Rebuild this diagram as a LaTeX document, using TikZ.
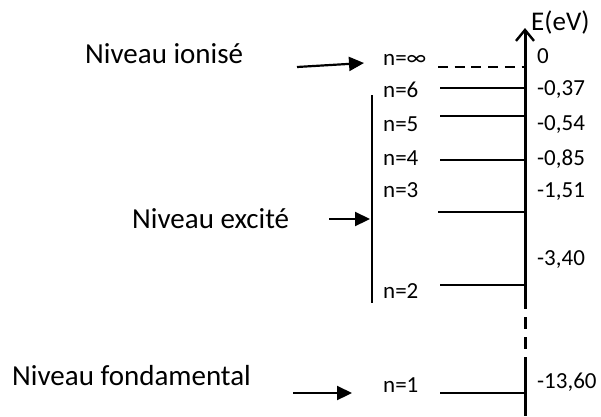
\documentclass[tikz,border=0pt]{standalone}
\usepackage{fontspec}
\setmainfont{Carlito}
\usetikzlibrary{arrows.meta}
\begin{document}
\begin{tikzpicture}[x=1pt,y=-1pt,
  big/.style={anchor=base west,inner sep=0pt,font=\fontsize{29}{32}\selectfont},
  small/.style={anchor=base west,inner sep=0pt,font=\fontsize{23}{26}\selectfont},
  level/.style={line width=2.9pt},
  pointer/.style={line width=2.2pt,-{Triangle[length=15pt,width=14pt]}},
  axis/.style={line width=3pt}]
\useasboundingbox (0,0) rectangle (601,416);
% axis
\coordinate (atop) at (525,28);
\coordinate (abrk1) at (525,297);
\coordinate (abrk2) at (525,363);
\coordinate (abot) at (525,416);
\draw[axis,-{Straight Barb[length=11pt,width=18pt,line width=2.4pt]}] (abrk1) -- (atop);
\draw[axis,dash pattern=on 12pt off 8pt] (abrk1) -- (abrk2);
\draw[axis] (abrk2) -- (abot);
\node[anchor=base west,inner sep=0pt,font=\fontsize{27}{30}\selectfont] (unit) at (531,30) {E(eV)};
% levels
\coordinate (linf) at (438,67); \coordinate (rinf) at (525,67);
\coordinate (l6) at (440,88);   \coordinate (r6) at (525,88);
\coordinate (l5) at (440,116);  \coordinate (r5) at (525,116);
\coordinate (l4) at (440,160);  \coordinate (r4) at (525,160);
\coordinate (l3) at (438,212);  \coordinate (r3) at (525,212);
\coordinate (l2) at (440,285);  \coordinate (r2) at (525,285);
\coordinate (l1) at (440,393);  \coordinate (r1) at (525,393);
\draw[level,dash pattern=on 10pt off 6.7pt] (linf) -- (rinf);
\draw[level] (l6) -- (r6);
\draw[level] (l5) -- (r5);
\draw[level] (l4) -- (r4);
\draw[level] (l3) -- (r3);
\draw[level] (l2) -- (r2);
\draw[level] (l1) -- (r1);
% n labels
\node[small] (ninf) at (383,65) {n=∞};
\node[small] (n6) at (383,97) {n=6};
\node[small] (n5) at (383,131) {n=5};
\node[small] (n4) at (383,165) {n=4};
\node[small] (n3) at (383,197) {n=3};
\node[small] (n2) at (383,298) {n=2};
\node[small] (n1) at (383,392) {n=1};
% energies
\node[small] (e0) at (537,63) {0};
\node[small] (e6) at (537,95) {-0,37};
\node[small] (e5) at (537,130) {-0,54};
\node[small] (e4) at (537,165) {-0,85};
\node[small] (e3) at (537,197) {-1,51};
\node[small] (e2) at (537,265) {-3,40};
\node[small] (e1) at (537,388) {-13,60};
% bracket
\coordinate (bt) at (372,95); \coordinate (bb) at (372,303);
\draw[line width=2.2pt] (bt) -- (bb);
% left labels
\node[big] (ion) at (85,63) {Niveau ionisé};
\node[big] (exc) at (132,228) {Niveau excité};
\node[big] (fon) at (12,385) {Niveau fondamental};
\coordinate (ia) at (297,67); \coordinate (ib) at (364,63);
\coordinate (ea) at (329,219); \coordinate (eb) at (370,219);
\coordinate (fa) at (293,393); \coordinate (fb) at (352,393);
\draw[pointer] (ia) -- (ib);
\draw[pointer] (ea) -- (eb);
\draw[pointer] (fa) -- (fb);
\end{tikzpicture}
\end{document}
